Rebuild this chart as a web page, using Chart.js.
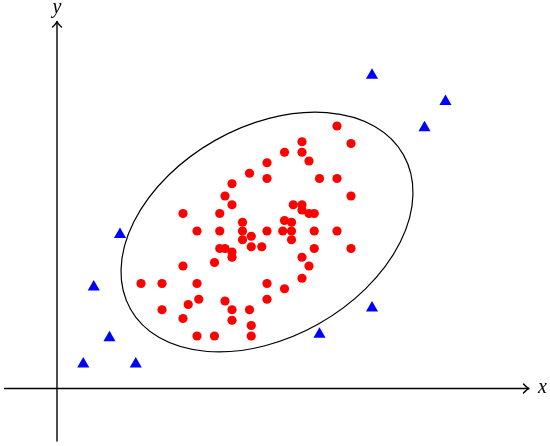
<!DOCTYPE html>
<html>
<head>
<meta charset="utf-8">
<script src="https://cdn.jsdelivr.net/npm/chart.js@4"></script>
<style>
  html, body { margin: 0; padding: 0; background: #fff; }
</style>
</head>
<body>
<canvas id="chart" width="550" height="446"></canvas>
<script>
// inside points (red)
const insideX = [8.0, 7.0, 8.4, 6.5, 7.0, 7.2, 6.0, 5.5, 6.0, 7.5, 8.0, 5.0, 4.8, 8.4, 5.0, 6.75, 7.0,
  7.0, 7.2, 7.35, 3.6, 4.65, 5.3, 6.5, 6.7, 4.0, 4.65, 5.3, 6.0, 6.45, 6.7, 7.35, 8.0, 5.55,
  5.3, 6.7, 5.55, 5.85, 4.65, 4.8, 5.0, 7.35, 8.4, 5.0, 7.0, 4.5, 3.6, 7.2, 7.0, 2.4, 3.0,
  4.0, 6.0, 6.5, 4.05, 4.8, 6.0, 3.75, 3.0, 5.0, 5.5, 3.6, 5.0, 5.55, 4.0, 4.5, 5.55];
const insideY = [7.5, 7.05, 7.0, 6.75, 6.75, 6.5, 6.45, 6.15, 6.0, 6.0, 6.0, 5.85, 5.5, 5.5, 5.25, 5.25, 5.25,
  5.1, 5.0, 5.0, 5.0, 5.0, 4.75, 4.8, 4.75, 4.5, 4.5, 4.5, 4.5, 4.5, 4.5, 4.5, 4.5, 4.35,
  4.25, 4.25, 4.05, 4.05, 4.0, 4.0, 3.9, 4.0, 4.0, 3.75, 3.75, 3.6, 3.5, 3.5, 3.15, 3.0, 3.0,
  3.0, 3.0, 2.85, 2.55, 2.5, 2.55, 2.4, 2.25, 2.25, 2.25, 2.0, 1.95, 1.8, 1.5, 1.5, 1.5];

// outside points (blue)
const outsideX = [9.0, 11.1, 10.5, 1.8, 1.05, 1.5, 0.75, 2.25, 7.5, 9.0];
const outsideY = [8.95, 8.2, 7.45, 4.4, 2.9, 1.45, 0.7, 0.7, 1.55, 2.3];

// ellipse: center, semi axes, tilt (degrees)
const ellipseCenter = [6.0, 4.47];
const ellipseAxes = [4.48, 3.01];
const ellipseAngle = 29.5;

// drawn axes
const axisXRange = [-1.5, 13.5];
const axisYRange = [-1.5, 10.5];
const axisLabels = ['x', 'y'];

const toPoints = (xs, ys) => xs.map((v, i) => ({ x: v, y: ys[i] }));

function arrowHead(ctx, tx, ty, dx, dy) {
  const s = 6;
  const px = -dy, py = dx;
  ctx.beginPath();
  ctx.moveTo(tx - dx * s + px * s * 0.75, ty - dy * s + py * s * 0.75);
  ctx.quadraticCurveTo(tx - dx * s * 0.3, ty - dy * s * 0.3, tx, ty);
  ctx.quadraticCurveTo(tx - dx * s * 0.3, ty - dy * s * 0.3, tx - dx * s - px * s * 0.75, ty - dy * s - py * s * 0.75);
  ctx.stroke();
}

const figurePlugin = {
  id: 'figure',
  beforeDatasetsDraw(chart) {
    const { ctx, scales: { x, y } } = chart;
    const ox = x.getPixelForValue(0), oy = y.getPixelForValue(0);
    const x0 = x.getPixelForValue(axisXRange[0]), x1 = x.getPixelForValue(axisXRange[1]);
    const y0 = y.getPixelForValue(axisYRange[0]), y1 = y.getPixelForValue(axisYRange[1]);

    ctx.save();
    ctx.strokeStyle = '#000';
    ctx.lineWidth = 1.4;
    ctx.lineCap = 'round';
    ctx.beginPath();
    ctx.moveTo(x0, oy); ctx.lineTo(x1 - 1, oy);
    ctx.moveTo(ox, y0); ctx.lineTo(ox, y1 + 1);
    ctx.stroke();
    arrowHead(ctx, x1, oy, 1, 0);
    arrowHead(ctx, ox, y1, 0, -1);

    ctx.fillStyle = '#000';
    ctx.font = 'italic 20px "Liberation Serif", "DejaVu Serif", serif';
    ctx.textAlign = 'center';
    ctx.textBaseline = 'middle';
    ctx.fillText(axisLabels[0], x1 + 13, oy - 1);
    ctx.fillText(axisLabels[1], ox, y1 - 13);

    // ellipse
    const ux = x.getPixelForValue(1) - x.getPixelForValue(0);
    const uy = y.getPixelForValue(0) - y.getPixelForValue(1);
    ctx.save();
    ctx.translate(x.getPixelForValue(ellipseCenter[0]), y.getPixelForValue(ellipseCenter[1]));
    ctx.scale(ux, uy);
    ctx.rotate(-ellipseAngle * Math.PI / 180);
    ctx.beginPath();
    ctx.ellipse(0, 0, ellipseAxes[0], ellipseAxes[1], 0, 0, Math.PI * 2);
    ctx.restore();
    ctx.lineWidth = 1.2;
    ctx.stroke();
    ctx.restore();
  }
};

new Chart(document.getElementById('chart'), {
  type: 'scatter',
  data: {
    datasets: [
      {
        label: 'inside',
        data: toPoints(insideX, insideY),
        pointStyle: 'circle',
        pointRadius: 4.6,
        backgroundColor: '#ff0000',
        borderColor: '#ff0000',
        borderWidth: 0,
      },
      {
        label: 'outside',
        data: toPoints(outsideX, outsideY),
        pointStyle: 'triangle',
        pointRadius: 7,
        backgroundColor: '#0000ff',
        borderColor: '#0000ff',
        borderWidth: 0,
      },
    ],
  },
  options: {
    responsive: false,
    animation: false,
    layout: { padding: 0, autoPadding: false },
    plugins: { legend: { display: false }, tooltip: { enabled: false } },
    events: [],
    scales: {
      x: { type: 'linear', min: -57 / 35, max: 493 / 35, display: false },
      y: { type: 'linear', min: -57.5 / 35, max: 388.5 / 35, display: false },
    },
  },
  plugins: [figurePlugin],
});
</script>
</body>
</html>
